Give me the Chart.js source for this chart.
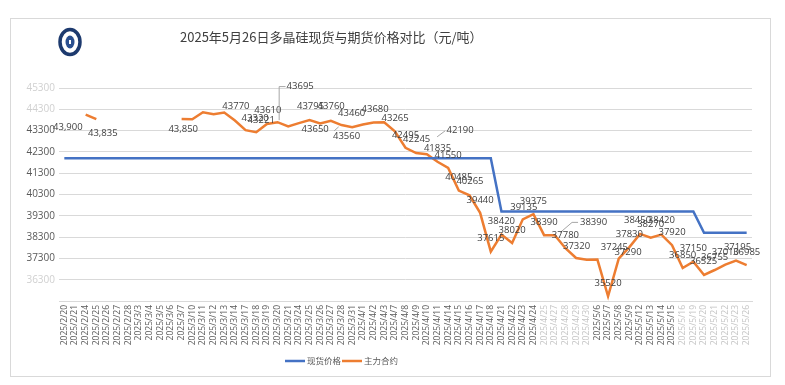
<!DOCTYPE html>
<html>
<head>
<meta charset="utf-8">
<script src="https://cdn.jsdelivr.net/npm/chart.js@4.4.1/dist/chart.umd.min.js"></script>
<style>
  html, body { margin: 0; padding: 0; background: #fff; }
  #wrap { width: 785px; height: 385px; }
</style>
</head>
<body>
<div id="wrap"><canvas id="c" width="785" height="385"></canvas></div>
<script>
const chartTitle = "2025年5月26日多晶硅现货与期货价格对比（元/吨）";
const seriesNames = ["现货价格", "主力合约"];

const categories = [
  "2025/2/20","2025/2/21","2025/2/24","2025/2/25","2025/2/26","2025/2/27","2025/2/28",
  "2025/3/3","2025/3/4","2025/3/5","2025/3/6","2025/3/7","2025/3/10","2025/3/11","2025/3/12","2025/3/13","2025/3/14",
  "2025/3/17","2025/3/18","2025/3/19","2025/3/20","2025/3/21","2025/3/24","2025/3/25","2025/3/26","2025/3/27","2025/3/28","2025/3/31",
  "2025/4/1","2025/4/2","2025/4/3","2025/4/7","2025/4/8","2025/4/9","2025/4/10","2025/4/11",
  "2025/4/14","2025/4/15","2025/4/16","2025/4/17","2025/4/18","2025/4/21","2025/4/22","2025/4/23","2025/4/24","2025/4/25",
  "2025/4/27","2025/4/28","2025/4/29","2025/4/30",
  "2025/5/6","2025/5/7","2025/5/8","2025/5/9","2025/5/12","2025/5/13","2025/5/14","2025/5/15","2025/5/16",
  "2025/5/19","2025/5/20","2025/5/21","2025/5/22","2025/5/23","2025/5/26"
];

const spotPrice = [
  42000,42000,42000,42000,42000,42000,42000,
  42000,42000,42000,42000,42000,42000,42000,42000,42000,42000,
  42000,42000,42000,42000,42000,42000,42000,42000,42000,42000,42000,
  42000,42000,42000,42000,42000,42000,42000,42000,
  42000,42000,42000,42000,42000,39500,39500,39500,39500,39500,
  39500,39500,39500,39500,
  39500,39500,39500,39500,39500,39500,39500,39500,39500,
  39500,38500,38500,38500,38500,38500
];

const futuresPrice = [
  43900,null,44050,43835,null,null,null,
  null,null,null,null,43850,43830,44160,44070,44150,43770,
  43320,43221,43610,43695,43500,43650,43795,43640,43760,43560,43460,
  43590,43680,43690,43265,42495,42245,42190,41835,
  41550,40485,40265,39440,37615,38420,38020,39135,39375,38390,
  38390,37780,37320,37240,
  37245,35520,37290,37830,38450,38270,38420,37920,36850,
  37150,36525,36755,37010,37195,36985
];

const yTickValues = [35300,36300,37300,38300,39300,40300,41300,42300,43300,44300,45300];
const yHiddenTicks = [35300];
const yFaintTicks = [36300,44300,45300];
const xFaintIdx = [45,46,47,48,49,58,59,60,61,62,63,64];

// which futures points carry a value label
const labeledIdx = [0,3,11,16,17,18,19,20,22,23,25,26,27,29,31,32,33,34,35,36,37,38,39,40,41,42,43,44,45,46,47,48,50,51,52,53,54,55,56,57,58,59,60,61,62,63,64];
const commaIdx = [0,3,11];
// label placement (offset of label centre from its point), default above
const labelOffsets = {
  0:[3.5,9], 3:[6.5,13.7], 11:[1.6,10], 16:[1,-14], 17:[9.6,-12.3], 18:[5,-12.4],
  19:[1,-13.5], 20:[22.6,-35.6], 22:[16.3,6], 23:[1,-13.5], 25:[0.3,-14.2], 26:[5,11.5],
  27:[-0.5,-14], 29:[1.6,-13.7], 31:[0.3,-13.2], 32:[0,-12], 33:[0.5,-13.3], 34:[33.3,-23.7],
  35:[0,-13.7], 38:[0.5,-13.8], 43:[1,-12.5], 46:[38.8,-12.8], 48:[0.5,-12],
  50:[17,-12.6], 52:[9.3,-6], 54:[-2.5,-13.2], 56:[0,-13.9], 60:[-0.5,-13.4], 62:[0,-12.3], 63:[1.5,-13.7]
};
const leaderLines = {
  20: [[8,-35.6],[1.6,-35.6],[1.6,-2]],
  26: [[-7.4,5.8],[-2.9,1.8]],
  34: [[18.3,-23.4],[10.3,-17.4]],
  46: [[23.3,-12.8],[17.3,-12.8],[5.3,-2.5]]
};

const BLUE = '#4472C4';
const ORANGE = '#ED7D31';

const framePlugin = {
  id: 'frame',
  beforeDraw(chart) {
    const ctx = chart.ctx;
    ctx.save();
    ctx.fillStyle = '#ffffff';
    ctx.fillRect(0, 0, chart.width, chart.height);
    ctx.strokeStyle = '#D9D9D9';
    ctx.lineWidth = 1;
    ctx.strokeRect(10.5, 18.5, 760, 358);
    // logo
    ctx.strokeStyle = '#1d3a6e';
    ctx.lineWidth = 3.5;
    ctx.beginPath();
    ctx.ellipse(70, 42, 10, 12.5, 0, 0, Math.PI * 2);
    ctx.stroke();
    ctx.fillStyle = '#2a4f8f';
    ctx.beginPath();
    ctx.ellipse(70, 42, 4.5, 6.5, 0, 0, Math.PI * 2);
    ctx.fill();
    ctx.fillStyle = '#ffffff';
    ctx.fillRect(69, 40, 2, 4);
    // title
    ctx.fillStyle = '#404040';
    ctx.font = '13px "Noto Sans CJK SC", sans-serif';
    ctx.textBaseline = 'middle';
    ctx.textAlign = 'left';
    ctx.fillText(chartTitle, 180, 37);
    ctx.restore();
  },
  afterDatasetsDraw(chart) {
    const ctx = chart.ctx;
    const meta = chart.getDatasetMeta(1);
    const data = chart.data.datasets[1].data;
    ctx.save();
    ctx.font = '9.5px "Open Sans", sans-serif';
    ctx.fillStyle = '#404040';
    ctx.textAlign = 'center';
    ctx.textBaseline = 'middle';
    ctx.strokeStyle = '#A6A6A6';
    ctx.lineWidth = 1;
    labeledIdx.forEach(i => {
      const v = data[i];
      if (v === null || v === undefined) return;
      const p = meta.data[i];
      const off = labelOffsets[i] || [0, -13];
      const lead = leaderLines[i];
      if (lead) {
        ctx.beginPath();
        lead.forEach((d, k) => {
          const x = p.x + d[0], y = p.y + d[1];
          if (k === 0) ctx.moveTo(x, y); else ctx.lineTo(x, y);
        });
        ctx.stroke();
      }
      const txt = commaIdx.includes(i) ? v.toLocaleString('en-US') : String(v);
      ctx.fillText(txt, p.x + off[0], p.y + off[1]);
    });
    ctx.restore();
  },
  afterDraw(chart) {
    const ctx = chart.ctx;
    ctx.save();
    const y = 361;
    ctx.lineWidth = 2.5;
    ctx.strokeStyle = BLUE;
    ctx.beginPath(); ctx.moveTo(285, y); ctx.lineTo(305, y); ctx.stroke();
    ctx.strokeStyle = ORANGE;
    ctx.beginPath(); ctx.moveTo(342, y); ctx.lineTo(362, y); ctx.stroke();
    ctx.fillStyle = '#595959';
    ctx.font = '8.5px "Noto Sans CJK SC", sans-serif';
    ctx.textBaseline = 'middle';
    ctx.textAlign = 'left';
    ctx.fillText(seriesNames[0], 307, y);
    ctx.fillText(seriesNames[1], 364, y);
    ctx.restore();
  }
};

new Chart(document.getElementById('c'), {
  type: 'line',
  data: {
    labels: categories,
    datasets: [
      { label: seriesNames[0], data: spotPrice, borderColor: BLUE, backgroundColor: BLUE,
        borderWidth: 2.5, pointRadius: 0, tension: 0, spanGaps: false },
      { label: seriesNames[1], data: futuresPrice, borderColor: ORANGE, backgroundColor: ORANGE,
        borderWidth: 2.5, pointRadius: 0, tension: 0, spanGaps: false }
    ]
  },
  options: {
    responsive: false,
    animation: false,
    devicePixelRatio: 1,
    layout: { padding: { left: 0, right: 33, top: 88, bottom: 0 } },
    plugins: { legend: { display: false }, title: { display: false }, tooltip: { enabled: false } },
    scales: {
      x: {
        type: 'category',
        offset: true,
        grid: { display: false, drawTicks: false },
        border: { display: true, color: '#D9D9D9' },
        ticks: {
          autoSkip: false, maxRotation: 90, minRotation: 90, padding: 4,
          font: { size: 8.5, family: '"Open Sans", sans-serif' },
          color: c => xFaintIdx.includes(c.index) ? '#c4c4c4' : '#595959'
        },
        afterFit: s => { s.height = 84; }
      },
      y: {
        min: 35300, max: 45300,
        grid: { color: '#D9D9D9', lineWidth: 1, drawTicks: false },
        border: { display: false },
        afterBuildTicks: s => { s.ticks = yTickValues.map(v => ({ value: v })); },
        ticks: {
          padding: 4,
          font: { size: 10, family: '"Open Sans", sans-serif' },
          color: c => yFaintTicks.includes(c.tick.value) ? '#d0d0d0' : '#595959',
          callback: v => yHiddenTicks.includes(v) ? '' : String(v)
        },
        afterFit: s => { s.width = 59; }
      }
    }
  },
  plugins: [framePlugin]
});
</script>
</body>
</html>
